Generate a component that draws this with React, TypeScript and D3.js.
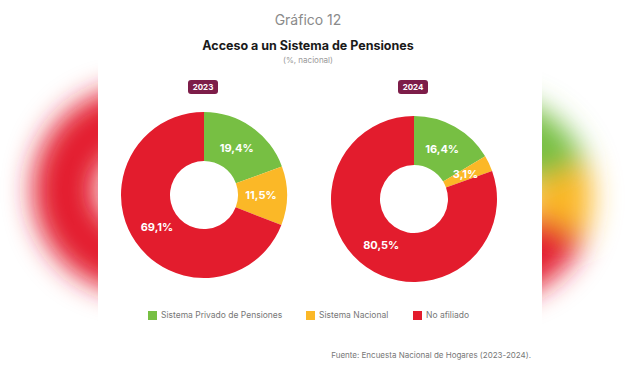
import React, { useEffect, useRef } from "react";
import * as d3 from "d3";

const categories = ["Sistema Privado de Pensiones", "Sistema Nacional", "No afiliado"];
const colors = ["#77bf43", "#fbb827", "#e31c2d"];
const years = ["2023", "2024"];
const values2023 = [19.4, 11.5, 69.1];
const values2024 = [16.4, 3.1, 80.5];
const labels2023 = ["19,4%", "11,5%", "69,1%"];
const labels2024 = ["16,4%", "3,1%", "80,5%"];

const width = 640;
const height = 374;
const font = "Inter, 'Noto Sans', sans-serif";

export default function App() {
  const ref = useRef<SVGSVGElement>(null);

  useEffect(() => {
    const svg = d3.select(ref.current);
    svg.selectAll("*").remove();

    svg.append("rect").attr("width", width).attr("height", height).attr("fill", "#fff");

    const defs = svg.append("defs");
    defs
      .append("filter")
      .attr("id", "blur")
      .attr("x", "-50%")
      .attr("y", "-50%")
      .attr("width", "200%")
      .attr("height", "200%")
      .append("feGaussianBlur")
      .attr("stdDeviation", 14);
    defs.append("clipPath").attr("id", "leftClip").append("rect").attr("x", 0).attr("y", 0).attr("width", 98).attr("height", height);
    defs.append("clipPath").attr("id", "rightClip").append("rect").attr("x", 542).attr("y", 0).attr("width", 98).attr("height", height);

    const pie = d3.pie<number>().sort(null).value((d) => d);

    // blurred decoration on the sides
    const bgArc = d3.arc<d3.PieArcDatum<number>>().innerRadius(40).outerRadius(102);
    const sides = [
      { clip: "leftClip", cx: 135, cy: 190, vals: values2023 },
      { clip: "rightClip", cx: 490, cy: 198, vals: values2023 },
    ];
    sides.forEach((s) => {
      svg
        .append("g")
        .attr("clip-path", `url(#${s.clip})`)
        .append("g")
        .attr("filter", "url(#blur)")
        .attr("transform", `translate(${s.cx},${s.cy})`)
        .selectAll("path")
        .data(pie(s.vals))
        .join("path")
        .attr("d", bgArc)
        .attr("fill", (d, i) => colors[i]);
    });

    const cxTitle = 308;
    svg
      .append("text")
      .attr("x", cxTitle)
      .attr("y", 25)
      .attr("text-anchor", "middle")
      .attr("font-family", font)
      .attr("font-size", 14)
      .attr("fill", "#8a8a8a")
      .text("Gráfico 12");
    svg
      .append("text")
      .attr("x", cxTitle)
      .attr("y", 50)
      .attr("text-anchor", "middle")
      .attr("font-family", font)
      .attr("font-weight", 700)
      .attr("font-size", 12.5)
      .attr("fill", "#1a1a1a")
      .text("Acceso a un Sistema de Pensiones");
    svg
      .append("text")
      .attr("x", cxTitle)
      .attr("y", 63)
      .attr("text-anchor", "middle")
      .attr("font-family", font)
      .attr("font-size", 8)
      .attr("fill", "#999")
      .text("(%, nacional)");

    const arc = d3.arc<d3.PieArcDatum<number>>().innerRadius(34).outerRadius(83);
    const labelArc = d3.arc<d3.PieArcDatum<number>>().innerRadius(57).outerRadius(57);

    const donuts = [
      { year: years[0], cx: 204, cy: 195, vals: values2023, labels: labels2023 },
      { year: years[1], cx: 414, cy: 199, vals: values2024, labels: labels2024 },
    ];

    donuts.forEach((dn) => {
      const badge = svg.append("g").attr("transform", `translate(${dn.cx - 1},87)`);
      badge
        .append("rect")
        .attr("x", -15)
        .attr("y", -7)
        .attr("width", 30)
        .attr("height", 14)
        .attr("rx", 3)
        .attr("fill", "#7d1d49");
      badge
        .append("text")
        .attr("y", 3)
        .attr("text-anchor", "middle")
        .attr("font-family", font)
        .attr("font-weight", 700)
        .attr("font-size", 8)
        .attr("fill", "#fff")
        .text(dn.year);

      const g = svg.append("g").attr("transform", `translate(${dn.cx},${dn.cy})`);
      const arcs = pie(dn.vals);
      g.selectAll("path")
        .data(arcs)
        .join("path")
        .attr("d", arc)
        .attr("fill", (d, i) => colors[i]);
      g.selectAll("text")
        .data(arcs)
        .join("text")
        .attr("transform", (d) => `translate(${labelArc.centroid(d)})`)
        .attr("text-anchor", "middle")
        .attr("dy", "0.35em")
        .attr("font-family", font)
        .attr("font-weight", 700)
        .attr("font-size", 11)
        .attr("fill", "#fff")
        .text((d, i) => dn.labels[i]);
    });

    // legend
    const legendX = [148, 306, 413];
    const legend = svg.append("g");
    categories.forEach((c, i) => {
      legend
        .append("rect")
        .attr("x", legendX[i])
        .attr("y", 311)
        .attr("width", 9)
        .attr("height", 9)
        .attr("fill", colors[i]);
      legend
        .append("text")
        .attr("x", legendX[i] + 13)
        .attr("y", 318)
        .attr("font-family", font)
        .attr("font-size", 8.5)
        .attr("fill", "#777")
        .text(c);
    });

    svg
      .append("text")
      .attr("x", 531)
      .attr("y", 358)
      .attr("text-anchor", "end")
      .attr("font-family", font)
      .attr("font-size", 8)
      .attr("fill", "#777")
      .text("Fuente: Encuesta Nacional de Hogares (2023-2024).");
  }, []);

  return (
    <svg
      ref={ref}
      width={width}
      height={height}
      style={{ position: "absolute", left: 0, top: 0, display: "block" }}
    />
  );
}
